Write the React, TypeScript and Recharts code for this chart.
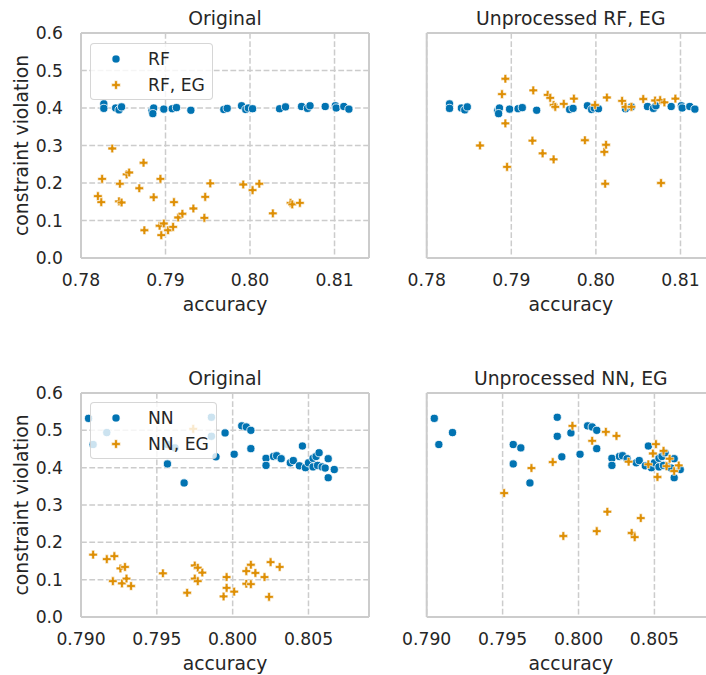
import React from 'react';
import { ScatterChart, Scatter, XAxis, YAxis, CartesianGrid, ReferenceLine, Legend, Label } from 'recharts';

// ---------- data ----------
const RF_ACC = [0.7827,0.7827,0.7841,0.7845,0.7848,0.7884,0.7886,0.7885,0.7898,0.7908,0.7913,0.7930,0.7969,0.7973,0.7990,0.7995,0.7998,0.8003,0.8035,0.8042,0.8061,0.8068,0.8071,0.8089,0.8101,0.8102,0.8111,0.8117];
const RF_CV = [0.411,0.399,0.400,0.395,0.403,0.393,0.400,0.385,0.397,0.398,0.401,0.394,0.396,0.399,0.406,0.396,0.400,0.398,0.398,0.403,0.404,0.399,0.406,0.404,0.406,0.400,0.404,0.397];

const RF_EG_ACC = [0.7837,0.7825,0.7820,0.7824,0.7846,0.7845,0.7848,0.7854,0.7857,0.7869,0.7874,0.7875,0.7886,0.7894,0.7893,0.7898,0.7895,0.7903,0.7909,0.7910,0.7915,0.7920,0.7933,0.7946,0.7947,0.7953,0.7992,0.8003,0.8011,0.8027,0.8048,0.8050,0.8059];
const RF_EG_CV = [0.292,0.211,0.165,0.149,0.198,0.151,0.148,0.223,0.228,0.186,0.254,0.074,0.162,0.211,0.086,0.092,0.061,0.074,0.083,0.149,0.108,0.118,0.132,0.107,0.163,0.199,0.196,0.181,0.198,0.119,0.147,0.143,0.147];

const URF_EG_ACC = [0.7863,0.7889,0.7893,0.7893,0.7895,0.7926,0.7925,0.7937,0.7943,0.7946,0.7950,0.7952,0.7950,0.7962,0.7974,0.7987,0.7999,0.8010,0.8012,0.8013,0.8011,0.8031,0.8035,0.8042,0.8056,0.8070,0.8076,0.8081,0.8077,0.8094];
const URF_EG_CV = [0.300,0.437,0.478,0.359,0.243,0.447,0.313,0.279,0.435,0.427,0.408,0.403,0.263,0.411,0.425,0.314,0.408,0.283,0.302,0.428,0.198,0.419,0.403,0.403,0.424,0.420,0.421,0.415,0.200,0.425];

const NN_ACC = [0.7905,0.7908,0.7917,0.7957,0.7962,0.7957,0.7968,0.7986,0.7986,0.7995,0.7989,0.8001,0.8006,0.8009,0.8012,0.8012,0.8022,0.8022,0.8027,0.8029,0.8032,0.8038,0.8040,0.8044,0.8046,0.8048,0.8050,0.8053,0.8055,0.8057,0.8053,0.8056,0.8059,0.8061,0.8063,0.8063,0.8067];
const NN_CV = [0.532,0.462,0.494,0.462,0.453,0.410,0.359,0.535,0.484,0.493,0.429,0.436,0.512,0.509,0.500,0.451,0.425,0.406,0.430,0.432,0.424,0.413,0.419,0.405,0.458,0.400,0.413,0.425,0.430,0.440,0.402,0.406,0.402,0.399,0.424,0.373,0.395];

const NN_EG_ACC = [0.7908,0.7917,0.7922,0.7926,0.7929,0.7921,0.7927,0.7930,0.7933,0.7954,0.7970,0.7975,0.7977,0.7975,0.7977,0.7980,0.7974,0.7994,0.7996,0.7996,0.8001,0.8009,0.8012,0.8009,0.8012,0.8015,0.8021,0.8024,0.8025,0.8031];
const NN_EG_CV = [0.167,0.155,0.163,0.130,0.134,0.096,0.090,0.103,0.083,0.117,0.065,0.138,0.132,0.103,0.096,0.119,0.504,0.055,0.107,0.078,0.068,0.123,0.140,0.089,0.088,0.118,0.107,0.054,0.147,0.134];

const UNN_EG_ACC = [0.7951,0.7969,0.7983,0.7990,0.7996,0.8009,0.8012,0.8018,0.8019,0.8025,0.8033,0.8035,0.8037,0.8041,0.8046,0.8049,0.8051,0.8052,0.8056,0.8058,0.8060,0.8063,0.8066];
const UNN_EG_CV = [0.332,0.399,0.415,0.217,0.512,0.472,0.230,0.496,0.282,0.485,0.416,0.225,0.214,0.265,0.409,0.438,0.463,0.375,0.445,0.404,0.424,0.391,0.406];

const TOP_X_TICKS = [0.78, 0.79, 0.8, 0.81];
const BOTTOM_X_TICKS = [0.79, 0.795, 0.8, 0.805];
const Y_TICKS = [0, 0.1, 0.2, 0.3, 0.4, 0.5, 0.6];

const TITLES = ['Original', 'Unprocessed RF, EG', 'Original', 'Unprocessed NN, EG'];

// ---------- style ----------
const BLUE = '#0173b2';
const ORANGE = '#de8f05';
const GRID = '#cccccc';
const TEXT = '#262626';
const FONT = '"DejaVu Sans", sans-serif';

const zip = (a: number[], b: number[]) => a.map((v, i) => ({ acc: v, cv: b[i] }));

const Dot = (p: any) => (
  <circle cx={p.cx} cy={p.cy} r={4.1} fill={BLUE} stroke="#ffffff" strokeWidth={0.8} />
);
const plusPath = (cx: number, cy: number, a: number, b: number) =>
  `M${cx - b},${cy - a}H${cx + b}V${cy - b}H${cx + a}V${cy + b}H${cx + b}V${cy + a}H${cx - b}V${cy + b}H${cx - a}V${cy - b}H${cx - b}Z`;
const Plus = (p: any) => (
  <path d={plusPath(p.cx, p.cy, 4.3, 1.4)} fill={ORANGE} stroke="#ffffff" strokeWidth={0.6} />
);

const LegendBox = (props: any) => {
  const { payload = [], boxW } = props;
  return (
    <div
      style={{
        width: boxW,
        height: 57,
        boxSizing: 'border-box',
        background: 'rgba(255,255,255,0.8)',
        border: '1.3px solid rgba(204,204,204,0.8)',
        borderRadius: 4,
        position: 'relative',
        fontFamily: FONT,
        fontSize: 17.2,
        color: TEXT,
      }}
    >
      {payload.map((item: any, i: number) => (
        <div key={i} style={{ position: 'absolute', left: 0, top: i === 0 ? 15 : 41, height: 0 }}>
          <svg width={20} height={20} style={{ position: 'absolute', left: 15, top: -10 }}>
            {i === 0 ? (
              <circle cx={10} cy={10} r={4.1} fill={BLUE} stroke="#fff" strokeWidth={0.8} />
            ) : (
              <path d={plusPath(10, 10, 4.3, 1.4)} fill={ORANGE} stroke="#fff" strokeWidth={0.6} />
            )}
          </svg>
          <span style={{ position: 'absolute', left: 57, top: -11, whiteSpace: 'nowrap', lineHeight: '22px' }}>
            {item.value}
          </span>
        </div>
      ))}
    </div>
  );
};

type PanelProps = {
  left: number;
  top: number;
  w: number;
  h: number;
  margin: { top: number; right: number; bottom: number; left: number };
  yWidth: number;
  showY: boolean;
  domain: [number, number];
  ticks: number[];
  digits: number;
  blue: { acc: number; cv: number }[];
  orange: { acc: number; cv: number }[];
  names: [string, string];
  legend: null | { left: number; top: number; w: number };
  rightEdge: boolean;
};

const Panel = (p: PanelProps) => (
  <div style={{ position: 'absolute', left: p.left, top: p.top, width: p.w, height: p.h }}>
    <ScatterChart width={p.w} height={p.h} margin={p.margin}>
      <CartesianGrid stroke={GRID} strokeWidth={1.5} strokeDasharray="5.8 2.5" syncWithTicks />
      <XAxis
        type="number"
        dataKey="acc"
        domain={p.domain}
        ticks={p.ticks}
        allowDataOverflow
        axisLine={false}
        tickLine={false}
        tickSize={0}
        tickMargin={16}
        height={30}
        interval={0}
        tickFormatter={(v: number) => v.toFixed(p.digits)}
        tick={{ fill: TEXT, fontSize: 17.2, fontFamily: FONT }}
      >
        <Label value="accuracy" position="bottom" offset={10} style={{ fill: TEXT, fontSize: 18.8, fontFamily: FONT }} />
      </XAxis>
      <YAxis
        type="number"
        dataKey="cv"
        domain={[0, 0.6]}
        ticks={Y_TICKS}
        allowDataOverflow
        axisLine={false}
        tickLine={false}
        tickSize={0}
        tickMargin={18}
        width={p.yWidth}
        interval={0}
        tick={p.showY ? { fill: TEXT, fontSize: 17.2, fontFamily: FONT } : false}
        tickFormatter={(v: number) => v.toFixed(1)}
      >
        {p.showY ? (
          <Label
            value="constraint violation"
            angle={-90}
            position="insideLeft"
            offset={10.3}
            style={{ fill: TEXT, fontSize: 18.8, fontFamily: FONT, textAnchor: 'middle' }}
          />
        ) : null}
      </YAxis>
      <Scatter name={p.names[0]} data={p.blue} fill={BLUE} shape={Dot} isAnimationActive={false} />
      <Scatter name={p.names[1]} data={p.orange} fill={ORANGE} shape={Plus} isAnimationActive={false} />
      <ReferenceLine y={0} stroke={GRID} strokeWidth={2} ifOverflow="visible" />
      <ReferenceLine y={0.6} stroke={GRID} strokeWidth={2} ifOverflow="visible" />
      <ReferenceLine x={p.domain[0]} stroke={GRID} strokeWidth={2} ifOverflow="visible" />
      {p.rightEdge ? <ReferenceLine x={p.domain[1]} stroke={GRID} strokeWidth={2} ifOverflow="visible" /> : null}
      {p.legend ? (
        <Legend
          layout="horizontal"
          verticalAlign="middle"
          align="center"
          wrapperStyle={{ left: p.legend.left, top: p.legend.top, width: p.legend.w, height: 57 }}
          content={(lp: any) => <LegendBox payload={lp.payload} boxW={p.legend!.w} />}
        />
      ) : null}
    </ScatterChart>
  </div>
);

const TOP_DOMAIN: [number, number] = [0.78, 0.81408];
const BOTTOM_DOMAIN: [number, number] = [0.79, 0.80899];

export default function App() {
  return (
    <div
      style={{
        position: 'absolute',
        left: 0,
        top: 0,
        width: 706,
        height: 675,
        overflow: 'hidden',
        background: '#ffffff',
      }}
    >
      <Panel
        left={0}
        top={0}
        w={380}
        h={320}
        margin={{ top: 33, right: 11, bottom: 32, left: 11 }}
        yWidth={70}
        showY
        domain={TOP_DOMAIN}
        ticks={TOP_X_TICKS}
        digits={2}
        blue={zip(RF_ACC, RF_CV)}
        orange={zip(RF_EG_ACC, RF_EG_CV)}
        names={['RF', 'RF, EG']}
        legend={{ left: 90, top: 43, w: 123 }}
        rightEdge
      />
      <Panel
        left={380}
        top={0}
        w={340}
        h={320}
        margin={{ top: 33, right: 5, bottom: 32, left: 6.7 }}
        yWidth={40}
        showY={false}
        domain={TOP_DOMAIN}
        ticks={TOP_X_TICKS}
        digits={2}
        blue={zip(RF_ACC, RF_CV)}
        orange={zip(URF_EG_ACC, URF_EG_CV)}
        names={['RF', 'RF, EG']}
        legend={null}
        rightEdge={false}
      />
      <Panel
        left={0}
        top={330}
        w={380}
        h={345}
        margin={{ top: 63, right: 11, bottom: 28, left: 11 }}
        yWidth={70}
        showY
        domain={BOTTOM_DOMAIN}
        ticks={BOTTOM_X_TICKS}
        digits={3}
        blue={zip(NN_ACC, NN_CV)}
        orange={zip(NN_EG_ACC, NN_EG_CV)}
        names={['NN', 'NN, EG']}
        legend={{ left: 90, top: 71.5, w: 127 }}
        rightEdge
      />
      <Panel
        left={380}
        top={330}
        w={340}
        h={345}
        margin={{ top: 63, right: 5, bottom: 28, left: 6.7 }}
        yWidth={40}
        showY={false}
        domain={BOTTOM_DOMAIN}
        ticks={BOTTOM_X_TICKS}
        digits={3}
        blue={zip(NN_ACC, NN_CV)}
        orange={zip(UNN_EG_ACC, UNN_EG_CV)}
        names={['NN', 'NN, EG']}
        legend={null}
        rightEdge={false}
      />
      <svg width={706} height={675} style={{ position: 'absolute', left: 0, top: 0, pointerEvents: 'none' }}>
        <g fontFamily={FONT} fontSize={18.8} fill={TEXT} textAnchor="middle">
          <text x={225} y={25}>{TITLES[0]}</text>
          <text x={570.8} y={25}>{TITLES[1]}</text>
          <text x={225} y={384.5}>{TITLES[2]}</text>
          <text x={570.8} y={384.5}>{TITLES[3]}</text>
        </g>
      </svg>
    </div>
  );
}
